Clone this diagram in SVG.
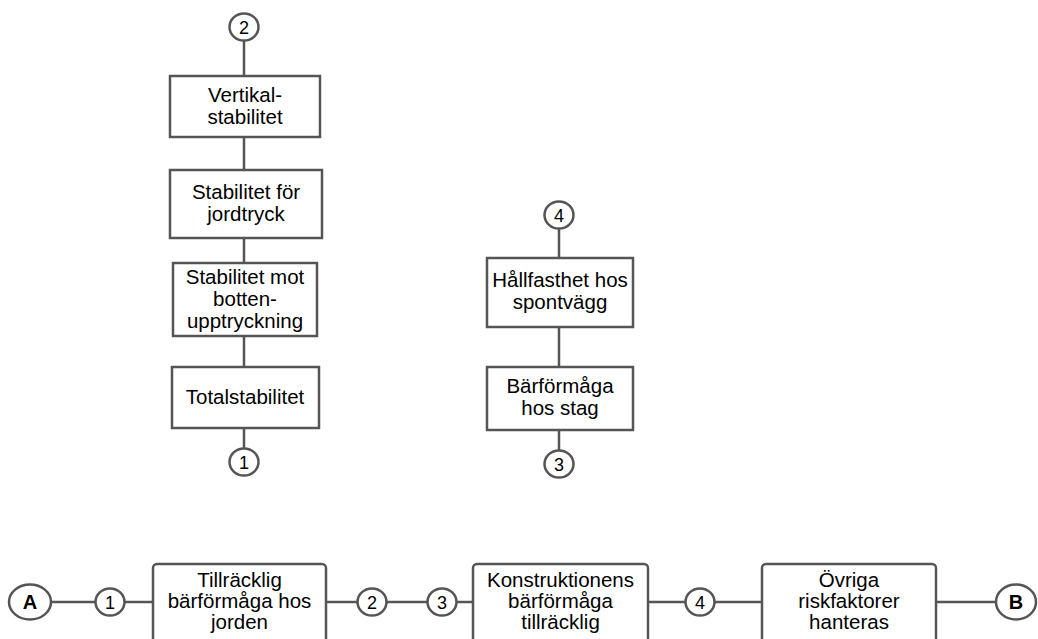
<svg xmlns="http://www.w3.org/2000/svg" width="1038" height="639" viewBox="0 0 1038 639">
<style>
.b{fill:#fff;stroke:#555;stroke-width:2.5}
.c{fill:#fff;stroke:#555;stroke-width:2.5}
.l{stroke:#555;stroke-width:2.5;fill:none}
.t{font-family:"Liberation Sans",Arial,sans-serif;font-size:20.5px;fill:#000;text-anchor:middle}
.n{font-family:"Liberation Sans",Arial,sans-serif;font-size:18px;fill:#000;text-anchor:middle}
.k{font-family:"Liberation Sans",Arial,sans-serif;font-size:20px;font-weight:bold;fill:#000;text-anchor:middle}
</style>
<rect width="1038" height="639" fill="#fff"/>
<g id="connectors">
<line class="l" x1="244" y1="40" x2="244" y2="76"/>
<line class="l" x1="244" y1="137" x2="244" y2="170"/>
<line class="l" x1="244" y1="238" x2="244" y2="263"/>
<line class="l" x1="244" y1="336" x2="244" y2="367"/>
<line class="l" x1="244" y1="428" x2="244" y2="449"/>
<line class="l" x1="559" y1="228" x2="559" y2="258"/>
<line class="l" x1="559" y1="327" x2="559" y2="367"/>
<line class="l" x1="559" y1="430" x2="559" y2="451"/>
<line class="l" x1="51" y1="602" x2="96" y2="602"/>
<line class="l" x1="124" y1="602" x2="153" y2="602"/>
<line class="l" x1="326" y1="602" x2="358" y2="602"/>
<line class="l" x1="386" y1="602" x2="428" y2="602"/>
<line class="l" x1="456" y1="602" x2="473" y2="602"/>
<line class="l" x1="648" y1="602" x2="686" y2="602"/>
<line class="l" x1="714" y1="602" x2="762" y2="602"/>
<line class="l" x1="936" y1="602" x2="996" y2="602"/>
</g>
<g id="c2top"><ellipse class="c" cx="244" cy="27" rx="14.5" ry="13.5"/><text class="n" x="244" y="33.5">2</text></g>
<g id="vertikal"><rect class="b" x="170" y="76" width="150" height="61"/><text class="t" x="245" y="102">Vertikal-</text><text class="t" x="245" y="124">stabilitet</text></g>
<g id="jordtryck"><rect class="b" x="170" y="170" width="152" height="68"/><text class="t" x="246" y="199">Stabilitet för</text><text class="t" x="246" y="221">jordtryck</text></g>
<g id="botten"><rect class="b" x="173" y="263" width="144" height="73"/><text class="t" x="245" y="284">Stabilitet mot</text><text class="t" x="245" y="306">botten-</text><text class="t" x="245" y="328">upptryckning</text></g>
<g id="total"><rect class="b" x="172" y="367" width="147" height="61"/><text class="t" x="245" y="404">Totalstabilitet</text></g>
<g id="c1mid"><ellipse class="c" cx="244" cy="462" rx="14.5" ry="13.5"/><text class="n" x="244" y="468.5">1</text></g>
<g id="c4mid"><ellipse class="c" cx="559" cy="215" rx="14.5" ry="13.5"/><text class="n" x="559" y="221.5">4</text></g>
<g id="hallfasthet"><rect class="b" x="487" y="258" width="146" height="69"/><text class="t" x="560" y="287">Hållfasthet hos</text><text class="t" x="560" y="309">spontvägg</text></g>
<g id="stag"><rect class="b" x="487" y="367" width="146" height="63"/><text class="t" x="560" y="393">Bärförmåga</text><text class="t" x="560" y="415">hos stag</text></g>
<g id="c3mid"><ellipse class="c" cx="559" cy="464" rx="14.5" ry="13.5"/><text class="n" x="559" y="470.5">3</text></g>
<g id="A"><ellipse class="c" cx="30" cy="602" rx="21" ry="17.5"/><text class="k" x="30" y="609">A</text></g>
<g id="c1"><ellipse class="c" cx="110" cy="602" rx="14.5" ry="13.5"/><text class="n" x="110" y="608.5">1</text></g>
<g id="jorden"><rect class="b" x="153" y="564" width="173" height="92" rx="4"/><text class="t" x="239.5" y="587">Tillräcklig</text><text class="t" x="239.5" y="608">bärförmåga hos</text><text class="t" x="239.5" y="629">jorden</text></g>
<g id="c2"><ellipse class="c" cx="372" cy="602" rx="14.5" ry="13.5"/><text class="n" x="372" y="608.5">2</text></g>
<g id="c3"><ellipse class="c" cx="442" cy="602" rx="14.5" ry="13.5"/><text class="n" x="442" y="608.5">3</text></g>
<g id="konstruktion"><rect class="b" x="473" y="564" width="175" height="92" rx="4"/><text class="t" x="560.5" y="587">Konstruktionens</text><text class="t" x="560.5" y="608">bärförmåga</text><text class="t" x="560.5" y="629">tillräcklig</text></g>
<g id="c4"><ellipse class="c" cx="700" cy="602" rx="14.5" ry="13.5"/><text class="n" x="700" y="608.5">4</text></g>
<g id="ovriga"><rect class="b" x="762" y="564" width="174" height="92" rx="4"/><text class="t" x="849" y="587">Övriga</text><text class="t" x="849" y="608">riskfaktorer</text><text class="t" x="849" y="629">hanteras</text></g>
<g id="B"><ellipse class="c" cx="1016" cy="602" rx="20" ry="17.5"/><text class="k" x="1016" y="609">B</text></g>
</svg>
